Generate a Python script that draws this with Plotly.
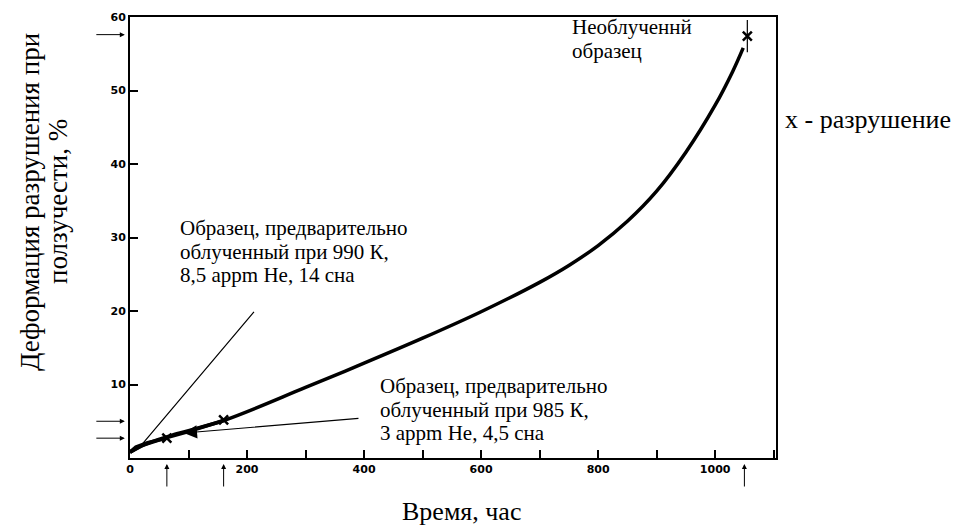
import plotly.graph_objects as go

# ---- data ----
unirr_t = [0, 30, 80, 160, 300, 400, 500, 600, 700, 750, 800, 850, 900, 950, 1000, 1030, 1048]
unirr_e = [0.8, 2.0, 3.3, 5.1, 9.6, 12.9, 16.3, 19.9, 23.9, 26.2, 28.9, 32.2, 36.3, 41.6, 48.0, 52.6, 55.8]

irr990_t = [0, 10, 30, 63]
irr990_e = [0.8, 1.5, 2.1, 2.7]

irr985_t = [0, 20, 60, 100, 160]
irr985_e = [0.8, 1.7, 2.7, 3.6, 5.1]

fract_t = [63, 160, 1055]
fract_e = [2.7, 5.2, 57.4]
fract_bar = [0, 0, 2.2]

x_arrows = [63, 160, 1050]
y_arrows = [2.7, 5.0, 57.6]

y_ticks = [10, 20, 30, 40, 50, 60]
x_ticks = [0, 200, 400, 600, 800, 1000]

title_y = ["Деформация разрушения при", "ползучести, %"]
title_x = "Время, час"
lbl_unirr = ["Необлученнй", "образец"]
lbl_990 = ["Образец, предварительно", "облученный при 990 К,", "8,5 appm He, 14 сна"]
lbl_985 = ["Образец, предварительно", "облученный при 985 К,", "3 appm He, 4,5 сна"]
lbl_x = "x - разрушение"

SERIF = "Liberation Serif"
W, H = 960, 528
L, R, T, B = 130, 776, 17, 458
PW, PH = R - L, B - T


def px(x):
    return (x - L) / PW


def py(y):
    return (B - y) / PH


fig = go.Figure()
line = dict(color="black", width=3.5)
fig.add_trace(go.Scatter(x=unirr_t, y=unirr_e, mode="lines",
                         line=dict(color="black", width=3.5, shape="spline", smoothing=1.0), hoverinfo="skip"))
fig.add_trace(go.Scatter(x=irr990_t, y=irr990_e, mode="lines", line=line, hoverinfo="skip"))
fig.add_trace(go.Scatter(x=irr985_t, y=irr985_e, mode="lines", line=line, hoverinfo="skip"))
fig.add_trace(go.Scatter(
    x=fract_t, y=fract_e, mode="markers",
    marker=dict(symbol="x-thin", size=9, color="black", line=dict(width=2.5, color="black")),
    error_y=dict(type="data", array=fract_bar, symmetric=True, thickness=1.2, width=0, color="black"),
    hoverinfo="skip"))

ann = []
for t in x_arrows:
    ann.append(dict(x=t, y=0, xref="x", yref="paper", yshift=-6, ax=0, ay=24,
                    showarrow=True, arrowhead=2, arrowsize=1, arrowwidth=1, arrowcolor="black", text=""))
for e in y_arrows:
    ann.append(dict(x=-0.008, y=e, xref="paper", yref="y", ax=-30, ay=0,
                    showarrow=True, arrowhead=2, arrowsize=1, arrowwidth=1, arrowcolor="black", text=""))
ann.append(dict(x=22, y=2.0, ax=214, ay=20.1, xref="x", yref="y", axref="x", ayref="y",
                showarrow=True, arrowhead=0, arrowwidth=1.2, arrowcolor="black", text=""))
ann.append(dict(x=92, y=3.4, ax=393, ay=5.4, xref="x", yref="y", axref="x", ayref="y",
                showarrow=True, arrowhead=2, arrowsize=2.2, arrowwidth=1.2, arrowcolor="black", text=""))


def lines(x0, y0, rows, size=21, step=23.5):
    out = []
    for i, s in enumerate(rows):
        out.append(dict(x=px(x0), y=py(y0 + i * step), xref="paper", yref="paper", text=s,
                        showarrow=False, xanchor="left", yanchor="middle",
                        font=dict(family=SERIF, size=size, color="black")))
    return out


ann += lines(570, 27, lbl_unirr)
ann += lines(178, 228, lbl_990)
ann += lines(378, 386, lbl_985)
ann += lines(783, 120, [lbl_x], size=26)
ann.append(dict(x=px(461), y=py(512), xref="paper", yref="paper", text=title_x, showarrow=False,
                xanchor="center", yanchor="middle", font=dict(family=SERIF, size=26, color="black")))
for i, s in enumerate(title_y):
    ann.append(dict(x=px(30 + 28 * i), y=py(202), xref="paper", yref="paper", text=s, showarrow=False,
                    textangle=-90, xanchor="center", yanchor="middle",
                    font=dict(family=SERIF, size=27, color="black")))

tickfont = dict(family="DejaVu Sans", size=11, color="black", weight="bold")
fig.update_layout(
    width=W, height=H, margin=dict(l=L, r=W - R, t=T, b=H - B),
    paper_bgcolor="white", plot_bgcolor="white", showlegend=False,
    annotations=ann,
    xaxis=dict(range=[0, 1104], tickvals=x_ticks, ticks="inside", ticklen=8, tickwidth=1.5,
               tickcolor="black", showline=True, mirror=True, linecolor="black", linewidth=2,
               showgrid=False, zeroline=False, tickfont=tickfont,
               minor=dict(dtick=100, tick0=0, ticks="inside", ticklen=8, tickwidth=1.5, tickcolor="black", showgrid=False)),
    yaxis=dict(range=[0, 60], tickvals=y_ticks, ticks="inside", ticklen=8, tickwidth=1.5,
               tickcolor="black", showline=True, mirror=True, linecolor="black", linewidth=2,
               showgrid=False, zeroline=False, tickfont=tickfont),
)
fig.write_html("out.html")
